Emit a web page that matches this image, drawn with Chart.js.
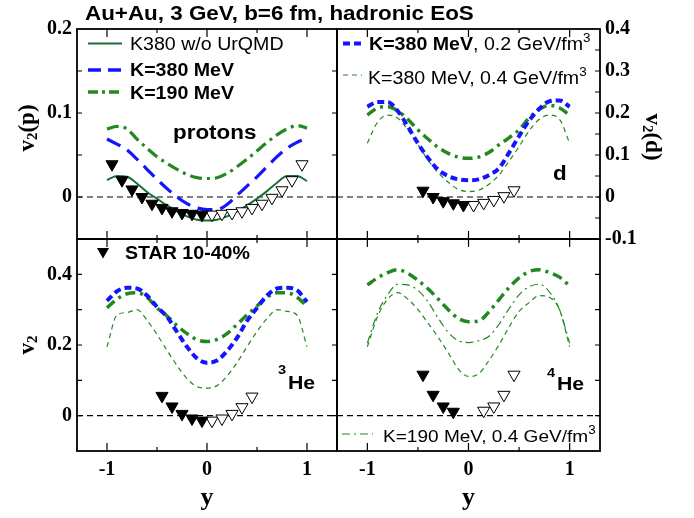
<!DOCTYPE html>
<html lang="en">
<head>
<meta charset="UTF-8">
<title>v2 vs rapidity</title>
<script src="https://cdn.jsdelivr.net/npm/chart.js"></script>
<style>
  body { margin: 0; background: #fff; }
  #wrap { position: relative; width: 694px; height: 518px; }
  #wrap canvas { position: absolute; left: 0; top: 0; }
</style>
</head>
<body>
<div id="wrap">
  <canvas id="cTL" width="694" height="518"></canvas>
  <canvas id="cTR" width="694" height="518"></canvas>
  <canvas id="cBL" width="694" height="518"></canvas>
  <canvas id="cBR" width="694" height="518"></canvas>
</div>
<script>
// rapidity grid of the model curves
const rapidity = [-1.0, -0.9, -0.8, -0.7, -0.6, -0.5, -0.4, -0.3, -0.2, -0.1, 0.0,
                  0.1, 0.2, 0.3, 0.4, 0.5, 0.6, 0.7, 0.8, 0.9, 1.0];
const xTickValues = [-1, -0.5, 0, 0.5, 1];

// protons
const pNoUrqmd = [0.020, 0.025, 0.024, 0.016, 0.006, -0.002, -0.010, -0.017, -0.023, -0.027, -0.028,
                  -0.027, -0.023, -0.017, -0.010, -0.002, 0.007, 0.017, 0.025, 0.025, 0.019];
const pK380 = [0.069, 0.063, 0.056, 0.045, 0.033, 0.021, 0.010, 0.000, -0.008, -0.013, -0.015,
               -0.015, -0.009, 0.002, 0.013, 0.024, 0.036, 0.048, 0.058, 0.065, 0.070];
const pK190 = [0.081, 0.084, 0.081, 0.069, 0.058, 0.048, 0.040, 0.033, 0.027, 0.023, 0.022,
               0.023, 0.028, 0.036, 0.045, 0.055, 0.065, 0.074, 0.081, 0.085, 0.082];
const starPY = [-0.95, -0.85, -0.75, -0.65, -0.55, -0.45, -0.35, -0.25, -0.15, -0.05];
const starPV = [0.039, 0.020, 0.009, 0.000, -0.008, -0.013, -0.017, -0.019, -0.020, -0.021];
const starPYRefl = [0.05, 0.15, 0.25, 0.35, 0.45, 0.55, 0.65, 0.75, 0.85, 0.95];
const starPVRefl = [-0.021, -0.020, -0.019, -0.017, -0.013, -0.008, -0.001, 0.008, 0.020, 0.039];

// deuterons
const dK380a = [0.215, 0.226, 0.226, 0.205, 0.168, 0.128, 0.093, 0.065, 0.050, 0.042, 0.040,
                0.042, 0.052, 0.068, 0.105, 0.145, 0.182, 0.210, 0.228, 0.230, 0.215];
const dK190a = [0.195, 0.212, 0.215, 0.205, 0.185, 0.160, 0.138, 0.118, 0.104, 0.095, 0.092,
                0.095, 0.106, 0.124, 0.141, 0.160, 0.188, 0.209, 0.218, 0.212, 0.195];
const dK380b = [0.128, 0.178, 0.195, 0.188, 0.160, 0.125, 0.088, 0.058, 0.035, 0.018, 0.013,
                0.016, 0.030, 0.052, 0.085, 0.120, 0.158, 0.185, 0.195, 0.185, 0.128];
const starDY = [-0.45, -0.35, -0.25, -0.15, -0.05];
const starDV = [0.015, 0.000, -0.010, -0.015, -0.019];
const starDYRefl = [0.05, 0.15, 0.25, 0.35, 0.45];
const starDVRefl = [-0.019, -0.014, -0.007, 0.002, 0.016];

// helium-3
const h3K380a = [0.325, 0.352, 0.362, 0.360, 0.340, 0.308, 0.280, 0.237, 0.195, 0.162, 0.150,
                 0.156, 0.183, 0.220, 0.268, 0.305, 0.340, 0.360, 0.362, 0.355, 0.322];
const h3K190a = [0.305, 0.330, 0.345, 0.348, 0.335, 0.305, 0.282, 0.255, 0.232, 0.215, 0.210,
                 0.216, 0.232, 0.258, 0.285, 0.310, 0.335, 0.348, 0.348, 0.335, 0.310];
const h3K380b = [0.195, 0.285, 0.292, 0.300, 0.270, 0.230, 0.185, 0.142, 0.105, 0.082, 0.078,
                 0.085, 0.112, 0.150, 0.195, 0.238, 0.275, 0.300, 0.295, 0.285, 0.195];
const starH3Y = [-0.45, -0.35, -0.25, -0.15, -0.05];
const starH3V = [0.056, 0.026, 0.005, -0.008, -0.014];
const starH3YRefl = [0.05, 0.15, 0.25, 0.35, 0.45];
const starH3VRefl = [-0.014, -0.008, 0.005, 0.024, 0.054];

// helium-4
const h4K190a = [0.370, 0.390, 0.405, 0.413, 0.403, 0.383, 0.359, 0.330, 0.300, 0.275, 0.266,
                 0.268, 0.293, 0.328, 0.362, 0.390, 0.408, 0.413, 0.405, 0.392, 0.367];
const h4K190b = [0.205, 0.290, 0.342, 0.372, 0.370, 0.355, 0.322, 0.276, 0.236, 0.212, 0.207,
                 0.212, 0.224, 0.258, 0.302, 0.342, 0.365, 0.372, 0.350, 0.300, 0.205];
const h4K380b = [0.195, 0.280, 0.330, 0.348, 0.330, 0.300, 0.262, 0.222, 0.178, 0.132, 0.111,
                 0.118, 0.155, 0.200, 0.250, 0.295, 0.320, 0.340, 0.335, 0.300, 0.195];
const starH4Y = [-0.45, -0.35, -0.25, -0.15];
const starH4V = [0.116, 0.059, 0.026, 0.011];
const starH4YRefl = [0.15, 0.25, 0.35, 0.45];
const starH4VRefl = [0.014, 0.026, 0.059, 0.116];

const BLUE = '#1414ff';
const GREEN = '#23891f';
const DARK_GREEN = '#1b6d3a';
const SANS = '"Liberation Sans", Arial, sans-serif';
const SERIF = '"Liberation Serif", "Times New Roman", serif';
const TICK_FONT = { family: SERIF, size: 20, weight: 'bold' };
const STRETCH = 1.12;
const MARK_R = 7;

function pts(xs, ys) { return xs.map((x, i) => ({ x: x, y: ys[i] })); }

function curve(ys, color, width, dash) {
  return { data: pts(rapidity, ys), borderColor: color, borderWidth: width, borderDash: dash,
           pointRadius: 0, fill: false, cubicInterpolationMode: 'monotone' };
}
function star(xs, ys, open) {
  return { data: pts(xs, ys), showLine: false, pointStyle: 'triangle', pointRotation: 180,
           pointRadius: MARK_R, pointBackgroundColor: open ? '#fff' : '#000',
           pointBorderColor: '#000', pointBorderWidth: 1 };
}
function zeroLine() {
  return { data: [{ x: -1.3, y: 0 }, { x: 1.3, y: 0 }], borderColor: '#000', borderWidth: 1.2,
           borderDash: [6, 4], pointRadius: 0 };
}

function drawSegs(ctx, x, y, segs) {
  let cx = 0;
  ctx.save();
  ctx.translate(x, y);
  ctx.scale(STRETCH, 1);
  for (const g of segs) {
    ctx.font = g.font;
    ctx.fillText(g.s, cx, g.dy || 0);
    cx += ctx.measureText(g.s).width;
  }
  ctx.restore();
}

function drawRotated(ctx, t) {
  ctx.save();
  ctx.translate(t.x, t.y);
  ctx.rotate(t.rot * Math.PI / 180);
  ctx.textBaseline = 'middle';
  let total = 0;
  for (const g of t.segs) { ctx.font = g.font; total += ctx.measureText(g.s).width; }
  let cx = -total / 2;
  for (const g of t.segs) {
    ctx.font = g.font;
    ctx.fillText(g.s, cx, g.dy || 0);
    cx += ctx.measureText(g.s).width;
  }
  ctx.restore();
}

// frame, inward ticks, legends and labels of one panel
const panelPlugin = {
  id: 'panel',
  afterDraw(chart, args, opts) {
    const ctx = chart.ctx, a = chart.chartArea;
    const xs = chart.scales.x, ys = chart.scales.y;
    ctx.save();
    ctx.strokeStyle = '#000';
    ctx.lineWidth = 1.2;
    ctx.beginPath();
    for (const v of xTickValues) {
      const px = xs.getPixelForValue(v);
      const len = Number.isInteger(v) ? 8 : 4;
      ctx.moveTo(px, a.top); ctx.lineTo(px, a.top + len);
      ctx.moveTo(px, a.bottom); ctx.lineTo(px, a.bottom - len);
    }
    for (const v of opts.yTicks) {
      const py = ys.getPixelForValue(v);
      if (opts.leftTicks) { ctx.moveTo(a.left, py); ctx.lineTo(a.left + 5, py); }
      ctx.moveTo(a.right, py); ctx.lineTo(a.right - 5, py);
    }
    ctx.stroke();
    ctx.lineWidth = 1.8;
    ctx.strokeRect(a.left, a.top, a.right - a.left, a.bottom - a.top);

    for (const l of opts.lines || []) {
      ctx.beginPath();
      ctx.strokeStyle = l.color;
      ctx.lineWidth = l.width;
      ctx.setLineDash(l.dash);
      ctx.moveTo(l.x1, l.y); ctx.lineTo(l.x2, l.y);
      ctx.stroke();
    }
    ctx.setLineDash([]);
    for (const m of opts.markers || []) {
      const r = MARK_R;
      ctx.beginPath();
      ctx.moveTo(m.x, m.y + r);
      ctx.lineTo(m.x - 0.866 * r, m.y - 0.5 * r);
      ctx.lineTo(m.x + 0.866 * r, m.y - 0.5 * r);
      ctx.closePath();
      ctx.fillStyle = '#000';
      ctx.fill();
    }
    ctx.fillStyle = '#000';
    ctx.textBaseline = 'alphabetic';
    for (const t of opts.texts || []) drawSegs(ctx, t.x, t.y, t.segs);
    for (const t of opts.vtitles || []) drawRotated(ctx, t);
    ctx.restore();
  }
};

function yLabel(v, shown) {
  const k = Math.round(v * 10);
  if (Math.abs(v * 10 - k) > 1e-6 || !shown.includes(k)) return '';
  return k === 0 ? '0' : (k / 10).toFixed(1);
}

function makePanel(id, cfg) {
  return new Chart(document.getElementById(id), {
    type: 'line',
    data: { datasets: cfg.datasets },
    options: {
      responsive: false, animation: false, devicePixelRatio: 1, events: [],
      layout: { padding: cfg.padding },
      plugins: { legend: { display: false }, tooltip: { enabled: false }, panel: cfg.panel },
      scales: {
        x: {
          type: 'linear', min: -1.3, max: 1.3, display: cfg.xAxis,
          grid: { display: false, drawTicks: false }, border: { display: false },
          ticks: { stepSize: 0.5, includeBounds: false, padding: 7, color: '#000', font: TICK_FONT,
                   maxRotation: 0, autoSkip: false,
                   callback: v => Number.isInteger(v) ? String(v) : '' },
          title: { display: cfg.xAxis, text: 'y', color: '#000',
                   font: { family: SERIF, size: 26, weight: 'bold' }, padding: 0 },
          afterFit: s => { if (cfg.xAxis) s.height = 63; }
        },
        y: {
          type: 'linear', min: cfg.yMin, max: cfg.yMax, position: cfg.yPos, display: cfg.yAxis,
          grid: { display: false, drawTicks: false }, border: { display: false },
          ticks: { stepSize: cfg.yStep, padding: 5, color: '#000', font: TICK_FONT, autoSkip: false,
                   callback: v => yLabel(v, cfg.yLabels) },
          afterFit: s => { if (cfg.yAxis) s.width = 45; }
        }
      }
    },
    plugins: [panelPlugin]
  });
}

const legFont = '17.5px ' + SANS;
const legBold = 'bold 17.5px ' + SANS;

// top left: protons
makePanel('cTL', {
  padding: { left: 32, right: 357, top: 29, bottom: 279 },
  xAxis: false, yAxis: true, yPos: 'left', yMin: -0.05, yMax: 0.2, yStep: 0.05, yLabels: [0, 1, 2],
  datasets: [
    star(starPY, starPV, false), star(starPYRefl, starPVRefl, true),
    curve(pNoUrqmd, DARK_GREEN, 2, []),
    curve(pK380, BLUE, 3.2, [15, 8]),
    curve(pK190, GREEN, 3.2, [12, 5, 3, 5]),
    zeroLine()
  ],
  panel: {
    leftTicks: true, yTicks: [0, 0.05, 0.1, 0.15],
    lines: [
      { x1: 88, x2: 122, y: 43.5, color: DARK_GREEN, width: 2, dash: [] },
      { x1: 88, x2: 122, y: 70, color: BLUE, width: 3.5, dash: [13, 7] },
      { x1: 88, x2: 122, y: 92, color: GREEN, width: 3.5, dash: [10, 4, 3, 4] }
    ],
    texts: [
      { x: 85, y: 19.5, segs: [{ s: 'Au+Au, 3 GeV, b=6 fm, hadronic EoS', font: 'bold 20px ' + SANS }] },
      { x: 130, y: 50, segs: [{ s: 'K380 w/o UrQMD', font: legFont }] },
      { x: 130, y: 76, segs: [{ s: 'K=380 MeV', font: legBold }] },
      { x: 130, y: 98.5, segs: [{ s: 'K=190 MeV', font: legBold }] },
      { x: 173, y: 138.5, segs: [{ s: 'protons', font: 'bold 20px ' + SANS }] }
    ],
    vtitles: [{ x: 28, y: 128, rot: -90, segs: [
      { s: 'v', font: 'bold 23px ' + SERIF }, { s: '2', font: 'bold 15px ' + SERIF, dy: 5 },
      { s: '(p)', font: 'bold 23px ' + SERIF }] }]
  }
});

// top right: deuterons
makePanel('cTR', {
  padding: { left: 337, right: 49, top: 29, bottom: 279 },
  xAxis: false, yAxis: true, yPos: 'right', yMin: -0.1, yMax: 0.4, yStep: 0.1, yLabels: [-1, 0, 1, 2, 3, 4],
  datasets: [
    star(starDY, starDV, false), star(starDYRefl, starDVRefl, true),
    curve(dK380a, BLUE, 4, [7, 4]),
    curve(dK190a, GREEN, 3.5, [10, 5, 3, 5]),
    curve(dK380b, GREEN, 1.2, [5, 4]),
    zeroLine()
  ],
  panel: {
    leftTicks: false, yTicks: [-0.05, 0, 0.05, 0.1, 0.15, 0.2, 0.25, 0.3, 0.35],
    lines: [
      { x1: 343, x2: 362, y: 43.5, color: BLUE, width: 4, dash: [7, 4] },
      { x1: 343, x2: 362, y: 75, color: GREEN, width: 1.2, dash: [5, 4] }
    ],
    texts: [
      { x: 369, y: 50, segs: [{ s: 'K=380 MeV', font: legBold }, { s: ', 0.2 GeV/fm', font: legFont },
                              { s: '3', font: '12px ' + SANS, dy: -8 }] },
      { x: 368, y: 84, segs: [{ s: 'K=380 MeV, 0.4 GeV/fm', font: legFont },
                              { s: '3', font: '12px ' + SANS, dy: -8 }] },
      { x: 553, y: 180, segs: [{ s: 'd', font: 'bold 20px ' + SANS }] }
    ],
    vtitles: [{ x: 652, y: 137, rot: 90, segs: [
      { s: 'v', font: 'bold 23px ' + SERIF }, { s: '2', font: 'bold 15px ' + SERIF, dy: 5 },
      { s: '(d)', font: 'bold 23px ' + SERIF }] }]
  }
});

// bottom left: helium-3
makePanel('cBL', {
  padding: { left: 32, right: 357, top: 239, bottom: 4 },
  xAxis: true, yAxis: true, yPos: 'left', yMin: -0.1, yMax: 0.5, yStep: 0.1, yLabels: [0, 2, 4],
  datasets: [
    star(starH3Y, starH3V, false), star(starH3YRefl, starH3VRefl, true),
    curve(h3K380a, BLUE, 4, [7, 4]),
    curve(h3K190a, GREEN, 3.5, [10, 5, 3, 5]),
    curve(h3K380b, GREEN, 1.2, [5, 4]),
    zeroLine()
  ],
  panel: {
    leftTicks: true, yTicks: [0, 0.1, 0.2, 0.3, 0.4],
    markers: [{ x: 103, y: 251.5 }],
    texts: [
      { x: 125, y: 259, segs: [{ s: 'STAR 10-40%', font: legBold }] },
      { x: 278, y: 374, segs: [{ s: '3', font: 'bold 13px ' + SANS }] },
      { x: 288, y: 389, segs: [{ s: 'He', font: 'bold 19px ' + SANS }] }
    ],
    vtitles: [{ x: 28, y: 345, rot: -90, segs: [
      { s: 'v', font: 'bold 23px ' + SERIF }, { s: '2', font: 'bold 15px ' + SERIF, dy: 5 }] }]
  }
});

// bottom right: helium-4
makePanel('cBR', {
  padding: { left: 337, right: 94, top: 239, bottom: 4 },
  xAxis: true, yAxis: false, yPos: 'right', yMin: -0.1, yMax: 0.5, yStep: 0.1, yLabels: [],
  datasets: [
    star(starH4Y, starH4V, false), star(starH4YRefl, starH4VRefl, true),
    curve(h4K190a, GREEN, 3.5, [10, 5, 3, 5]),
    curve(h4K190b, GREEN, 1.2, [8, 4, 2, 4]),
    curve(h4K380b, GREEN, 1.2, [5, 4]),
    zeroLine()
  ],
  panel: {
    leftTicks: false, yTicks: [0, 0.1, 0.2, 0.3, 0.4],
    lines: [{ x1: 342, x2: 373, y: 434, color: GREEN, width: 1.2, dash: [8, 4, 2, 4] }],
    texts: [
      { x: 383, y: 442, segs: [{ s: 'K=190 MeV, 0.4 GeV/fm', font: '17px ' + SANS },
                               { s: '3', font: '12px ' + SANS, dy: -8 }] },
      { x: 547, y: 377, segs: [{ s: '4', font: 'bold 13px ' + SANS }] },
      { x: 557, y: 390, segs: [{ s: 'He', font: 'bold 19px ' + SANS }] }
    ]
  }
});
</script>
</body>
</html>
